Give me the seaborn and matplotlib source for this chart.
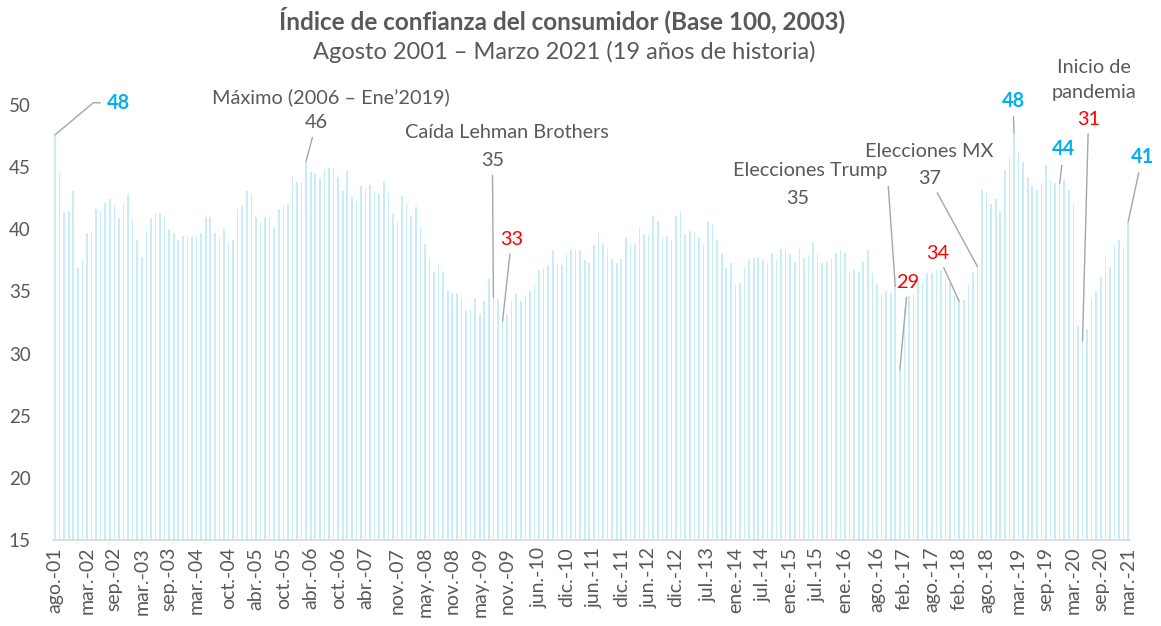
import pandas as pd
import matplotlib
matplotlib.use("Agg")
import matplotlib.pyplot as plt
import seaborn as sns

sns.set_style("white")
plt.rcParams["font.family"] = ["Lato", "DejaVu Sans"]

# ---------- datos ----------
meses_abrev = ["ene", "feb", "mar", "abr", "may", "jun",
               "jul", "ago", "sep", "oct", "nov", "dic"]

# Índice mensual, ago-01 a mar-21 (236 meses)
indice = [
    47.6, 44.5, 41.4, 41.5, 43.1, 36.9, 37.5, 39.7, 39.8, 41.6, 41.5, 42.1,
    42.4, 41.9, 40.9, 42.0, 42.8, 40.8, 39.1, 37.8, 39.9, 40.9, 41.2, 41.3,
    41.0, 40.0, 39.7, 39.1, 39.5, 39.5, 39.4, 39.5, 39.7, 41.0, 41.0, 39.7,
    39.3, 40.0, 39.0, 39.1, 41.6, 41.9, 43.1, 42.8, 41.0, 40.6, 41.0, 41.0,
    40.2, 41.6, 41.9, 42.0, 44.2, 43.8, 43.8, 45.5, 44.6, 44.5, 44.1, 44.8,
    44.9, 44.9, 44.2, 43.1, 44.7, 42.6, 42.3, 43.5, 43.3, 43.6, 43.0, 42.8,
    43.9, 42.9, 41.2, 40.7, 42.7, 42.1, 41.1, 41.8, 40.1, 38.8, 37.6, 36.6,
    37.2, 36.6, 35.1, 34.9, 34.9, 34.4, 33.4, 33.5, 34.5, 33.2, 34.2, 36.0,
    34.5, 34.4, 32.6, 33.1, 34.2, 34.8, 34.2, 34.6, 35.0, 35.5, 36.7, 36.9,
    37.1, 38.3, 37.3, 37.1, 38.1, 38.3, 38.3, 38.3, 37.5, 37.3, 38.7, 39.7,
    38.8, 38.4, 37.6, 37.3, 37.6, 39.3, 38.9, 38.8, 40.1, 39.6, 39.6, 41.1,
    40.7, 39.3, 39.5, 39.1, 41.1, 41.5, 39.6, 39.9, 39.8, 39.3, 38.7, 40.6,
    40.4, 39.1, 38.0, 36.9, 37.3, 35.5, 35.7, 37.0, 37.5, 37.7, 37.8, 37.5,
    37.3, 38.1, 37.6, 38.4, 38.6, 38.0, 37.4, 38.4, 37.7, 37.9, 39.0, 38.1,
    37.3, 37.4, 37.7, 38.1, 38.3, 38.1, 36.6, 36.7, 36.6, 37.4, 38.3, 36.5,
    35.6, 34.7, 35.0, 34.9, 35.4, 28.7, 33.6, 34.6, 34.9, 35.9, 35.7, 36.5,
    36.5, 36.7, 36.7, 36.2, 35.7, 34.7, 34.2, 34.3, 35.5, 36.6, 37.0, 43.2,
    42.9, 42.0, 42.4, 41.5, 44.8, 45.8, 47.7, 46.2, 45.4, 44.2, 43.5, 43.2,
    43.7, 45.2, 44.0, 43.7, 43.7, 44.0, 43.2, 42.0, 32.2, 31.0, 32.0, 34.4,
    35.0, 36.2, 37.8, 37.0, 38.7, 39.1, 38.6, 40.6,
]

etiquetas_eje = [
    "ago.-01", "mar.-02", "sep.-02", "mar.-03", "sep.-03", "mar.-04", "oct.-04",
    "abr.-05", "oct.-05", "abr.-06", "oct.-06", "abr.-07", "nov.-07", "may.-08",
    "nov.-08", "may.-09", "nov.-09", "jun.-10", "dic.-10", "jun.-11", "dic.-11",
    "jun.-12", "dic.-12", "jul.-13", "ene.-14", "jul.-14", "ene.-15", "jul.-15",
    "ene.-16", "ago.-16", "feb.-17", "ago.-17", "feb.-18", "ago.-18", "mar.-19",
    "sep.-19", "mar.-20", "sep.-20", "mar.-21",
]

meses = []
for k in range(len(indice)):
    m = (7 + k) % 12
    a = 1 + (7 + k) // 12
    meses.append(f"{meses_abrev[m]}.-{a:02d}")

df = pd.DataFrame({"mes": meses, "indice": indice})

AZUL_BARRA = "#c9ecf9"
AZUL = "#00b0f0"
ROJO = "#ff0000"
GRIS = "#595959"
LINEA = "#a6a6a6"

# ---------- gráfico ----------
fig = plt.figure(figsize=(11.61, 6.26), dpi=100)
ax = fig.add_axes([53 / 1161, 86 / 626, 1077 / 1161, 435 / 626])

sns.barplot(data=df, x="mes", y="indice", color=AZUL_BARRA, saturation=1,
            width=0.36, linewidth=0, ax=ax)
for p in ax.patches:
    p.set_antialiased(False)

ax.set_xlim(-0.44, 235.4)
ax.set_ylim(15, 50)
ax.set_yticks(range(15, 51, 5))
ax.set_xticks([meses.index(e) for e in etiquetas_eje])
ax.set_xticklabels(etiquetas_eje, rotation=90)
ax.set_xlabel("")
ax.set_ylabel("")
ax.tick_params(axis="y", length=0, pad=16, labelsize=13.5, labelcolor=GRIS)
ax.tick_params(axis="x", length=0, pad=5, labelsize=14, labelcolor=GRIS)
for s in ["top", "right", "left"]:
    ax.spines[s].set_visible(False)
ax.spines["bottom"].set_color("#d9d9d9")
ax.spines["bottom"].set_linewidth(1.2)

# ---------- anotaciones ----------
def nota(i, texto, color, dx, dy, bold=False, size=14.3, linea=True, **kw):
    props = None
    if linea:
        props = dict(arrowstyle="-", color=LINEA, lw=1, shrinkA=2, shrinkB=0)
        props.update(kw.pop("arrow", {}))
    ax.annotate(texto, xy=(i, indice[i]), xytext=(dx, dy),
                textcoords="offset pixels", ha="center", va="center",
                color=color, fontsize=size,
                fontweight="bold" if bold else "normal",
                arrowprops=props, annotation_clip=False, **kw)


nota(0, "48", AZUL, 63, 32, bold=True,
     arrow=dict(connectionstyle="angle,angleA=0,angleB=40,rad=0"))
nota(55, "46", GRIS, 10, 38)
nota(55, "Máximo (2006 – Ene’2019)", GRIS, 25, 64, linea=False)
nota(96, "35", GRIS, -1, 137)
nota(96, "Caída Lehman Brothers", GRIS, 14, 165, linea=False)
nota(98, "33", ROJO, 9, 82)
nota(184, "Elecciones Trump", GRIS, -85, 116,
     arrow=dict(relpos=(1, 0), shrinkA=3,
                connectionstyle="angle,angleA=0,angleB=94,rad=0"))
nota(184, "35", GRIS, -98, 88, linea=False)
nota(185, "29", ROJO, 8, 87)
nota(198, "34", ROJO, -22, 48)
nota(202, "37", GRIS, -48, 88)
nota(202, "Elecciones MX", GRIS, -48, 115, linea=False)
nota(210, "48", AZUL, -1, 33, bold=True)
nota(220, "44", AZUL, 4, 34, bold=True)
nota(225, "31", ROJO, 6, 222)
nota(225, "Inicio de\npandemia", GRIS, 11, 261, linea=False, linespacing=1.6)
nota(235, "41", AZUL, 14, 65, bold=True)

fig.text(0.4845, 0.968, "Índice de confianza del consumidor (Base 100, 2003)",
         ha="center", va="center", fontsize=17.5, fontweight="bold", color=GRIS)
fig.text(0.486, 0.917, "Agosto 2001 – Marzo 2021 (19 años de historia)",
         ha="center", va="center", fontsize=17, color=GRIS)

fig.savefig("out.png", dpi=100)
